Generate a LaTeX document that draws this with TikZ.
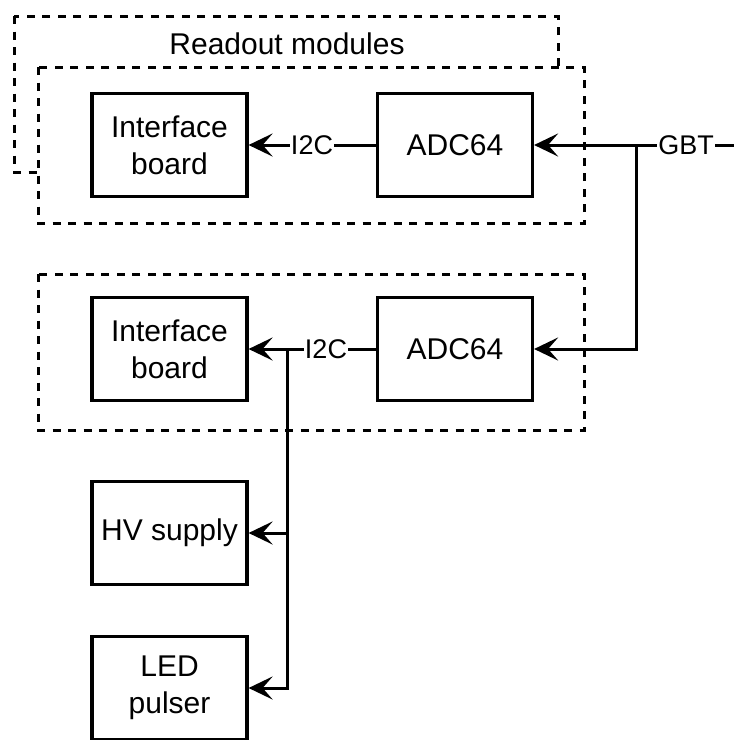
\documentclass[tikz,border=0pt]{standalone}
\usepackage{fontspec}
\setmainfont{Liberation Sans}
\usetikzlibrary{arrows.meta}
\begin{document}
\begin{tikzpicture}[x=1pt,y=-1pt,
  box/.style={draw, line width=3.2pt, fill=white, minimum width=155pt, minimum height=103pt, inner sep=0pt, align=center, font=\fontsize{30}{37}\selectfont},
  group/.style={draw, dash pattern=on 8pt off 7.5pt, line width=3pt, fill=white},
  conn/.style={line width=3pt},
  arr/.style={conn, -{Stealth[length=24pt, width=23pt, inset=10pt]}},
  lbl/.style={fill=white, inner sep=1pt, font=\fontsize{27}{32}\selectfont},
  title/.style={font=\fontsize{30}{36}\selectfont}
]
\useasboundingbox (0,0) rectangle (734,740);
% groups
\draw[group] (14,16) rectangle (558,172);
\draw[group] (38,67) rectangle (584,223);
\draw[group] (38,274) rectangle (584,430);
\node[title] (ttl) at (287,44) {Readout modules};
% boxes
\node[box] (ib1) at (169.5,145) {Interface\\board};
\node[box] (adc1) at (455,145) {ADC64};
\node[box] (ib2) at (169.5,349) {Interface\\board};
\node[box] (adc2) at (455,349) {ADC64};
\node[box] (hv) at (169.5,533) {HV supply};
\node[box] (lp) at (169.5,688) {LED\\pulser};
% connectors
\coordinate (gbtend) at (736,145);
\coordinate (j1) at (636,145);
\coordinate (j2) at (287,349);
\draw[arr] (adc1.west) -- (ib1.east);
\node[lbl] (i2c1) at (312,145) {I2C};
\draw[conn] (gbtend) -- (j1);
\draw[arr] (j1) -- (adc1.east);
\draw[arr] (j1) |- (adc2.east);
\node[lbl] (gbt) at (686,145) {GBT};
\draw[arr] (adc2.west) -- (ib2.east);
\draw[arr] (j2) |- (hv.east);
\draw[arr] (j2) |- (lp.east);
\node[lbl] (i2c2) at (326,349) {I2C};
\end{tikzpicture}
\end{document}
